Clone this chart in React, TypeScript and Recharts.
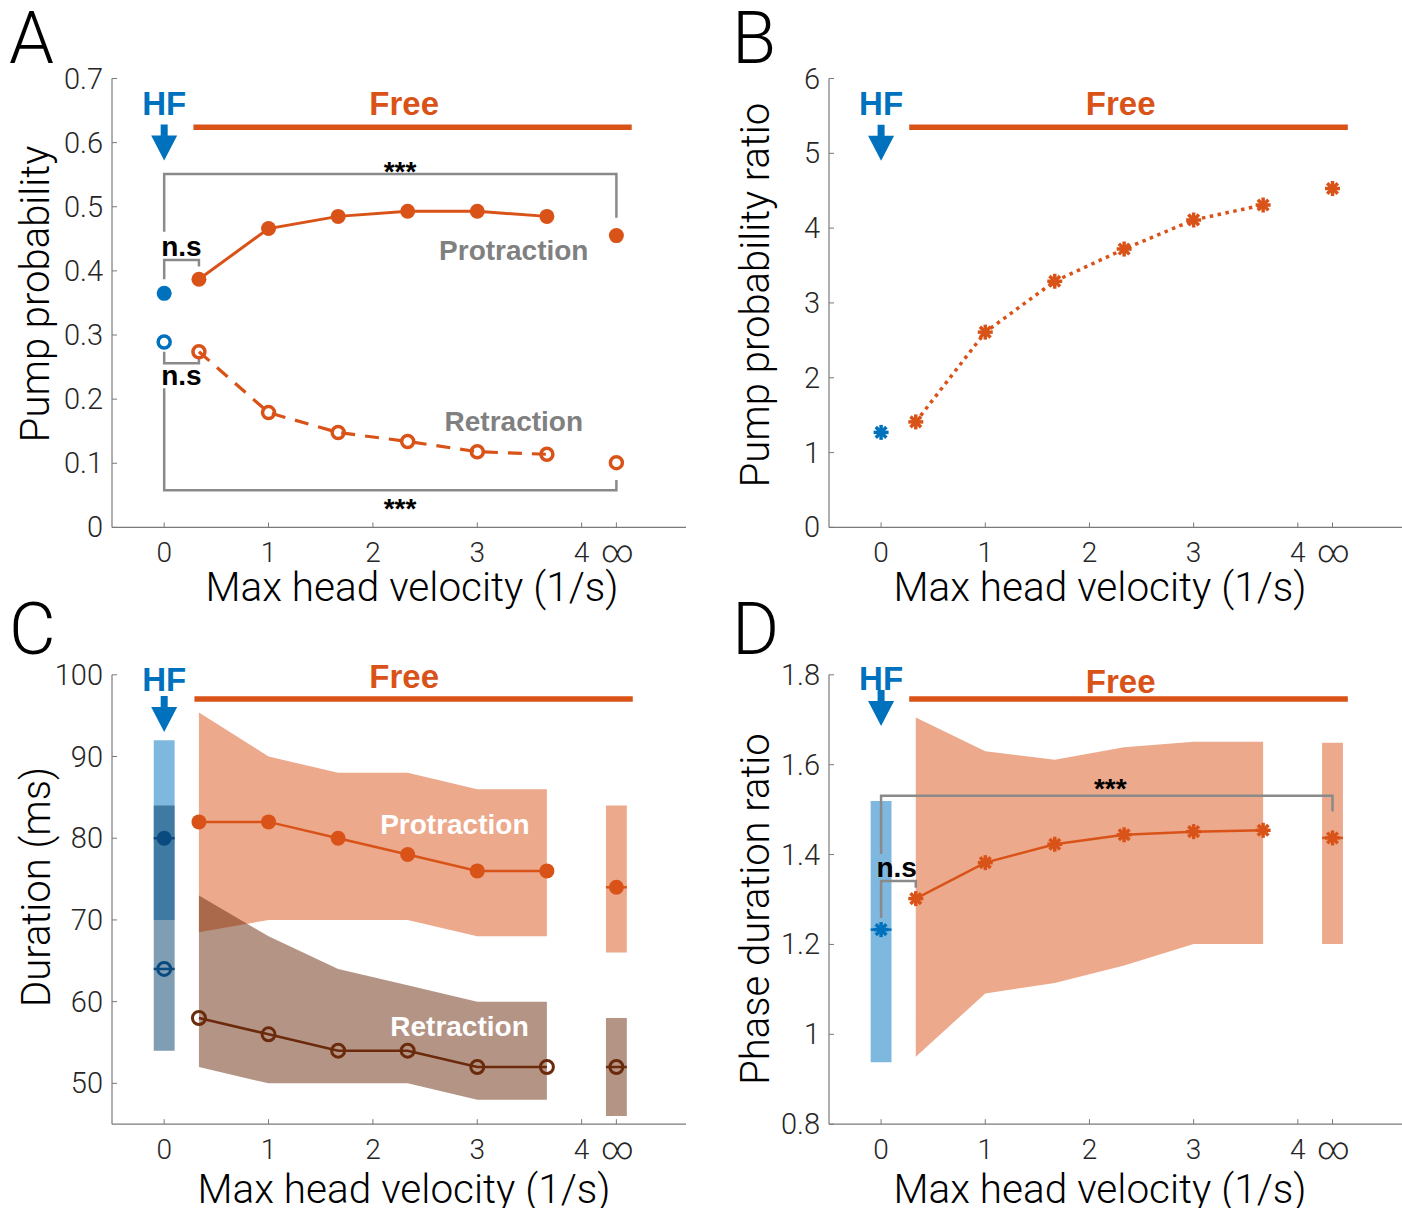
import React from "react";
import {
    ComposedChart,
    Line,
    Area,
    Scatter,
    XAxis,
    YAxis,
    ReferenceLine,
    ReferenceDot,
    ReferenceArea,
} from "recharts";

// x positions (max head velocity, 1/s); HF sits at 0 and the unconstrained case at "∞"
const freeX = [0.333, 1, 1.667, 2.333, 3, 3.667];
const HF_X = 0;
const INF_X = 4.333;
const xTicks = [0, 1, 2, 3, 4, INF_X];
const xTickLabels = ["0", "1", "2", "3", "4", "∞"];

// A - pump probability
const protProb = [0.387, 0.466, 0.485, 0.493, 0.493, 0.485];
const protProbHF = 0.365;
const protProbInf = 0.455;
const retrProb = [0.274, 0.179, 0.148, 0.134, 0.118, 0.114];
const retrProbHF = 0.289;
const retrProbInf = 0.101;
const yTicksA = [0, 0.1, 0.2, 0.3, 0.4, 0.5, 0.6, 0.7];

// B - pump probability ratio
const probRatio = [1.41, 2.61, 3.29, 3.72, 4.11, 4.31];
const probRatioHF = 1.27;
const probRatioInf = 4.53;
const yTicksB = [0, 1, 2, 3, 4, 5, 6];

// C - phase durations (ms), median with spread
const protDur = [82, 82, 80, 78, 76, 76];
const protDurHi = [95.4, 90, 88, 88, 86, 86];
const protDurLo = [68.5, 70, 70, 70, 68, 68];
const protDurHF = [70, 80, 92];
const protDurInf = [66, 74, 84];
const retrDur = [58, 56, 54, 54, 52, 52];
const retrDurHi = [73, 68, 64, 62, 60, 60];
const retrDurLo = [52, 50, 50, 50, 48, 48];
const retrDurHF = [54, 64, 84];
const retrDurInf = [46, 52, 58];
const yTicksC = [50, 60, 70, 80, 90, 100];

// D - phase duration ratio
const phaseRatio = [1.302, 1.382, 1.423, 1.444, 1.451, 1.454];
const phaseRatioHi = [1.705, 1.63, 1.611, 1.639, 1.651, 1.651];
const phaseRatioLo = [0.95, 1.091, 1.114, 1.153, 1.201, 1.201];
const phaseRatioHF = [0.938, 1.233, 1.519];
const phaseRatioInf = [1.201, 1.437, 1.649];
const yTicksD = [0.8, 1, 1.2, 1.4, 1.6, 1.8];

// significance brackets
const bracketA1 = [{ x: 0, y: 0.461 }, { x: 0, y: 0.551 }, { x: INF_X, y: 0.551 }, { x: INF_X, y: 0.483 }];
const bracketA2 = [{ x: 0, y: 0.387 }, { x: 0, y: 0.417 }, { x: 0.333, y: 0.417 }, { x: 0.333, y: 0.407 }];
const bracketA3 = [{ x: 0, y: 0.274 }, { x: 0, y: 0.256 }, { x: 0.333, y: 0.256 }, { x: 0.333, y: 0.263 }];
const bracketA4 = [{ x: 0, y: 0.217 }, { x: 0, y: 0.058 }, { x: INF_X, y: 0.058 }, { x: INF_X, y: 0.074 }];
const bracketD1 = [{ x: 0, y: 1.401 }, { x: 0, y: 1.531 }, { x: INF_X, y: 1.531 }, { x: INF_X, y: 1.496 }];
const bracketD2 = [{ x: 0, y: 1.259 }, { x: 0, y: 1.341 }, { x: 0.333, y: 1.341 }, { x: 0.333, y: 1.326 }];

const ORANGE = "#D95319";
const BLUE = "#0072BD";
const NAVY = "#0B4A7E";
const NAVY_BAND = "#003B67";
const BROWN = "#6A2A0B";
const GRAY = "#8A8A8A";
const AXIS = "#7A7A7A";
const TXT = "#262626";
const FONT = 'Roboto, "Liberation Sans", Arial, sans-serif';
const BOLD = '"Liberation Sans", Arial, sans-serif';
const BAR_HALF = 0.1;

const XTick = ({ x, y, payload }: any) => {
    const label = xTickLabels[xTicks.indexOf(payload.value)];
    const inf = label === "∞";
    return (
        <g>
            <line x1={x} x2={x} y1={y} y2={y - 5} stroke={AXIS} />
            <text x={inf ? x + 1 : x} y={y + 35} textAnchor="middle" fontSize={inf ? 31 : 28} fill={TXT} fontFamily={FONT} fontWeight={300}>
                {label}
            </text>
        </g>
    );
};

const YTick = ({ x, y, payload }: any) => (
    <g>
        <line x1={x} x2={x + 5} y1={y} y2={y} stroke={AXIS} />
        <text x={x - 9} y={y + 10} textAnchor="end" fontSize={29} fill={TXT} fontFamily={FONT} fontWeight={300}>
            {String(payload.value)}
        </text>
    </g>
);

const xAxisEl = (h: number) => (
    <XAxis type="number" dataKey="x" domain={[-0.5, 5]} ticks={xTicks} interval={0} height={h}
        axisLine={{ stroke: AXIS, strokeWidth: 1.2 }} tickLine={false} tickSize={0} tickMargin={0}
        tick={(p: any) => <XTick {...p} />} allowDataOverflow />
);

const yAxisEl = (domain: number[], ticks: number[], w: number) => (
    <YAxis type="number" domain={domain} ticks={ticks} interval={0} width={w}
        axisLine={{ stroke: AXIS, strokeWidth: 1.2 }} tickLine={false} tickSize={0} tickMargin={0}
        tick={(p: any) => <YTick {...p} />} allowDataOverflow />
);

const filledDot = (color: string, r = 7.5) => (p: any) => <circle cx={p.cx} cy={p.cy} r={r} fill={color} />;
const openDot = (color: string, r = 6, w = 3.5) => (p: any) =>
    <circle cx={p.cx} cy={p.cy} r={r} fill="none" stroke={color} strokeWidth={w} />;
const star = (color: string, s = 7.5, w = 3.5) => (p: any) => {
    const d = s * 0.707;
    return (
        <g stroke={color} strokeWidth={w}>
            <line x1={p.cx - s} x2={p.cx + s} y1={p.cy} y2={p.cy} />
            <line x1={p.cx} x2={p.cx} y1={p.cy - s} y2={p.cy + s} />
            <line x1={p.cx - d} x2={p.cx + d} y1={p.cy - d} y2={p.cy + d} />
            <line x1={p.cx - d} x2={p.cx + d} y1={p.cy + d} y2={p.cy - d} />
        </g>
    );
};

const note = (key: string, x: number, y: number, text: string, color: string, size: number) => (
    <ReferenceDot key={key} x={x} y={y} r={0} fill="none" stroke="none" ifOverflow="visible"
        label={{ value: text, position: "center", fill: color, fontSize: size, fontWeight: 700, fontFamily: BOLD }} />
);

const arrow = (key: string, y: number) => (
    <ReferenceDot key={key} x={HF_X} y={y} r={1} ifOverflow="visible"
        shape={(p: any) => (
            <path d={`M${p.cx - 3.5},${p.cy - 36} h7 v11 h9.5 L${p.cx},${p.cy} L${p.cx - 13},${p.cy - 25} h9.5 Z`} fill={BLUE} />
        )} />
);

const freeBar = (key: string, x1: number, x2: number, y: number) => (
    <ReferenceLine key={key} segment={[{ x: x1, y }, { x: x2, y }]} stroke={ORANGE} strokeWidth={5.5} ifOverflow="visible" />
);

const bracket = (key: string, pts: { x: number; y: number }[]) => (
    <Line key={key} data={pts} dataKey="y" stroke={GRAY} strokeWidth={2.5} dot={false} activeDot={false}
        isAnimationActive={false} strokeLinejoin="miter" />
);

const medTick = (key: string, x: number, y: number, color: string) => (
    <ReferenceLine key={key} segment={[{ x: x - BAR_HALF, y }, { x: x + BAR_HALF, y }]} stroke={color} strokeWidth={2.5} />
);

const rows = (ys: number[]) => freeX.map((x, i) => ({ x, v: ys[i] }));
const one = (x: number, v: number) => [{ x, v }];

function PanelA() {
    return (
        <ComposedChart width={700} height={610} margin={{ top: 78.5, right: 14, bottom: 0, left: 0 }}>
            {xAxisEl(82.6)}
            {yAxisEl([0, 0.7], yTicksA, 112)}
            {bracket("b1", bracketA1)}
            {bracket("b2", bracketA2)}
            {bracket("b3", bracketA3)}
            {bracket("b4", bracketA4)}
            <Line data={rows(protProb)} dataKey="v" stroke={ORANGE} strokeWidth={3} dot={false} activeDot={false} isAnimationActive={false} />
            <Line data={rows(retrProb)} dataKey="v" stroke={ORANGE} strokeWidth={3.2} strokeDasharray="14 10" dot={false} activeDot={false} isAnimationActive={false} />
            <Scatter data={rows(protProb)} dataKey="v" shape={filledDot(ORANGE)} isAnimationActive={false} />
            <Scatter data={one(INF_X, protProbInf)} dataKey="v" shape={filledDot(ORANGE)} isAnimationActive={false} />
            <Scatter data={one(HF_X, protProbHF)} dataKey="v" shape={filledDot(BLUE)} isAnimationActive={false} />
            <Scatter data={rows(retrProb)} dataKey="v" shape={openDot(ORANGE)} isAnimationActive={false} />
            <Scatter data={one(INF_X, retrProbInf)} dataKey="v" shape={openDot(ORANGE)} isAnimationActive={false} />
            <Scatter data={one(HF_X, retrProbHF)} dataKey="v" shape={openDot(BLUE)} isAnimationActive={false} />
            {freeBar("free", 0.28, 4.48, 0.624)}
            {arrow("arrow", 0.572)}
            {note("hf", 0, 0.662, "HF", BLUE, 33)}
            {note("fr", 2.3, 0.662, "Free", ORANGE, 33)}
            {note("pr", 3.35, 0.433, "Protraction", "#808080", 28)}
            {note("re", 3.35, 0.166, "Retraction", "#808080", 28)}
            {note("ns1", 0.165, 0.439, "n.s", "#000", 28)}
            {note("ns2", 0.165, 0.238, "n.s", "#000", 28)}
            {note("s1", 2.26, 0.556, "***", "#000", 28)}
            {note("s2", 2.26, 0.03, "***", "#000", 28)}
        </ComposedChart>
    );
}

function PanelB() {
    return (
        <ComposedChart width={702} height={610} margin={{ top: 78.5, right: 0, bottom: 0, left: 0 }}>
            {xAxisEl(82.6)}
            {yAxisEl([0, 6], yTicksB, 129)}
            <Line data={rows(probRatio)} dataKey="v" stroke={ORANGE} strokeWidth={3.5} strokeDasharray="3.5 4.5" dot={false} activeDot={false} isAnimationActive={false} />
            <Scatter data={rows(probRatio)} dataKey="v" shape={star(ORANGE)} isAnimationActive={false} />
            <Scatter data={one(INF_X, probRatioInf)} dataKey="v" shape={star(ORANGE)} isAnimationActive={false} />
            <Scatter data={one(HF_X, probRatioHF)} dataKey="v" shape={star(BLUE)} isAnimationActive={false} />
            {freeBar("free", 0.27, 4.48, 5.35)}
            {arrow("arrow", 4.9)}
            {note("hf", 0, 5.674, "HF", BLUE, 33)}
            {note("fr", 2.3, 5.674, "Free", ORANGE, 33)}
        </ComposedChart>
    );
}

function PanelC() {
    const band = freeX.map((x, i) => ({
        x,
        prot: [protDurLo[i], protDurHi[i]],
        retr: [retrDurLo[i], retrDurHi[i]],
    }));
    return (
        <ComposedChart width={700} height={608} data={band} margin={{ top: 74.8, right: 14, bottom: 0, left: 0 }}>
            {xAxisEl(83.8)}
            {yAxisEl([45, 100], yTicksC, 112)}
            <Area dataKey="prot" type="linear" stroke="none" fill={ORANGE} fillOpacity={0.5} dot={false} activeDot={false} isAnimationActive={false} />
            <Area dataKey="retr" type="linear" stroke="none" fill={BROWN} fillOpacity={0.5} dot={false} activeDot={false} isAnimationActive={false} />
            <ReferenceArea x1={HF_X - BAR_HALF} x2={HF_X + BAR_HALF} y1={protDurHF[0]} y2={protDurHF[2]} fill={BLUE} fillOpacity={0.5} stroke="none" />
            <ReferenceArea x1={HF_X - BAR_HALF} x2={HF_X + BAR_HALF} y1={retrDurHF[0]} y2={retrDurHF[2]} fill={NAVY_BAND} fillOpacity={0.5} stroke="none" />
            <ReferenceArea x1={INF_X - BAR_HALF} x2={INF_X + BAR_HALF} y1={protDurInf[0]} y2={protDurInf[2]} fill={ORANGE} fillOpacity={0.5} stroke="none" />
            <ReferenceArea x1={INF_X - BAR_HALF} x2={INF_X + BAR_HALF} y1={retrDurInf[0]} y2={retrDurInf[2]} fill={BROWN} fillOpacity={0.5} stroke="none" />
            <Line data={rows(protDur)} dataKey="v" stroke={ORANGE} strokeWidth={2.5} dot={false} activeDot={false} isAnimationActive={false} />
            <Line data={rows(retrDur)} dataKey="v" stroke={BROWN} strokeWidth={2.5} dot={false} activeDot={false} isAnimationActive={false} />
            {medTick("m1", HF_X, protDurHF[1], NAVY)}
            {medTick("m2", HF_X, retrDurHF[1], NAVY)}
            {medTick("m3", INF_X, protDurInf[1], ORANGE)}
            {medTick("m4", INF_X, retrDurInf[1], BROWN)}
            <Scatter data={rows(protDur)} dataKey="v" shape={filledDot(ORANGE)} isAnimationActive={false} />
            <Scatter data={one(INF_X, protDurInf[1])} dataKey="v" shape={filledDot(ORANGE)} isAnimationActive={false} />
            <Scatter data={one(HF_X, protDurHF[1])} dataKey="v" shape={filledDot(NAVY)} isAnimationActive={false} />
            <Scatter data={rows(retrDur)} dataKey="v" shape={openDot(BROWN, 6.5, 3)} isAnimationActive={false} />
            <Scatter data={one(INF_X, retrDurInf[1])} dataKey="v" shape={openDot(BROWN, 6.5, 3)} isAnimationActive={false} />
            <Scatter data={one(HF_X, retrDurHF[1])} dataKey="v" shape={openDot(NAVY, 6.5, 3)} isAnimationActive={false} />
            {freeBar("free", 0.29, 4.49, 97.05)}
            {arrow("arrow", 93.0)}
            {note("hf", 0, 99.4, "HF", BLUE, 33)}
            {note("fr", 2.3, 99.8, "Free", ORANGE, 33)}
            {note("pr", 2.785, 81.7, "Protraction", "#fff", 28)}
            {note("re", 2.83, 57.0, "Retraction", "#fff", 28)}
        </ComposedChart>
    );
}

function PanelD() {
    const band = freeX.map((x, i) => ({ x, r: [phaseRatioLo[i], phaseRatioHi[i]] }));
    return (
        <ComposedChart width={702} height={608} data={band} margin={{ top: 74.8, right: 0, bottom: 0, left: 0 }}>
            {xAxisEl(83.8)}
            {yAxisEl([0.8, 1.8], yTicksD, 129)}
            <Area dataKey="r" type="linear" stroke="none" fill={ORANGE} fillOpacity={0.5} dot={false} activeDot={false} isAnimationActive={false} />
            <ReferenceArea x1={HF_X - BAR_HALF} x2={HF_X + BAR_HALF} y1={phaseRatioHF[0]} y2={phaseRatioHF[2]} fill={BLUE} fillOpacity={0.5} stroke="none" />
            <ReferenceArea x1={INF_X - BAR_HALF} x2={INF_X + BAR_HALF} y1={phaseRatioInf[0]} y2={phaseRatioInf[2]} fill={ORANGE} fillOpacity={0.5} stroke="none" />
            {bracket("b1", bracketD1)}
            {bracket("b2", bracketD2)}
            <Line data={rows(phaseRatio)} dataKey="v" stroke={ORANGE} strokeWidth={2.5} dot={false} activeDot={false} isAnimationActive={false} />
            {medTick("m1", HF_X, phaseRatioHF[1], BLUE)}
            {medTick("m2", INF_X, phaseRatioInf[1], ORANGE)}
            <Scatter data={rows(phaseRatio)} dataKey="v" shape={star(ORANGE)} isAnimationActive={false} />
            <Scatter data={one(INF_X, phaseRatioInf[1])} dataKey="v" shape={star(ORANGE)} isAnimationActive={false} />
            <Scatter data={one(HF_X, phaseRatioHF[1])} dataKey="v" shape={star(BLUE)} isAnimationActive={false} />
            {freeBar("free", 0.27, 4.48, 1.746)}
            {arrow("arrow", 1.686)}
            {note("hf", 0, 1.793, "HF", BLUE, 33)}
            {note("fr", 2.3, 1.785, "Free", ORANGE, 33)}
            {note("ns", 0.15, 1.373, "n.s", "#000", 28)}
            {note("s1", 2.2, 1.549, "***", "#000", 28)}
        </ComposedChart>
    );
}

const titleStyle = { fontFamily: FONT, fontWeight: 300, fill: "#000" };

export default function App() {
    return (
        <div style={{ position: "absolute", left: 0, top: 0, width: 1402, height: 1208, background: "#fff" }}>
            <div style={{ position: "absolute", left: 0, top: 0 }}><PanelA /></div>
            <div style={{ position: "absolute", left: 700, top: 0 }}><PanelB /></div>
            <div style={{ position: "absolute", left: 0, top: 600 }}><PanelC /></div>
            <div style={{ position: "absolute", left: 700, top: 600 }}><PanelD /></div>
            <svg width={1402} height={1208} style={{ position: "absolute", left: 0, top: 0, pointerEvents: "none" }}>
                <g style={titleStyle} fontSize={72}>
                    <text x={9} y={63}>A</text>
                    <text x={732} y={63}>B</text>
                    <text x={9} y={654}>C</text>
                    <text x={732} y={654}>D</text>
                </g>
                <g style={titleStyle} fontSize={40.5} textAnchor="middle">
                    <text x={412} y={601}>Max head velocity (1/s)</text>
                    <text x={1100} y={601}>Max head velocity (1/s)</text>
                    <text x={404} y={1203}>Max head velocity (1/s)</text>
                    <text x={1100} y={1203}>Max head velocity (1/s)</text>
                </g>
                <g style={titleStyle} fontSize={40} textAnchor="middle">
                    <text transform="translate(49,294) rotate(-90)">Pump probability</text>
                    <text transform="translate(769,295) rotate(-90)">Pump probability ratio</text>
                    <text transform="translate(50,887) rotate(-90)">Duration (ms)</text>
                    <text transform="translate(769,909) rotate(-90)">Phase duration ratio</text>
                </g>
            </svg>
        </div>
    );
}
